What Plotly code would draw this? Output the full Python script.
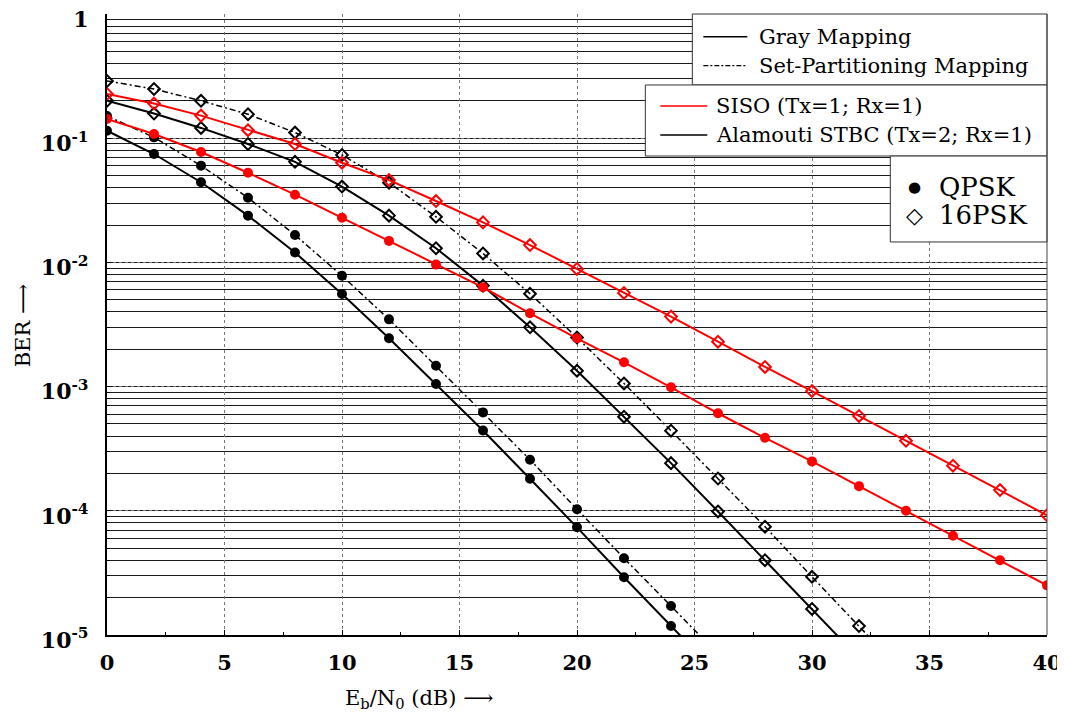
import plotly.graph_objects as go

# ---------------- data ----------------
snr_siso = [0, 2, 4, 6, 8, 10, 12, 14, 16, 18, 20, 22, 24, 26, 28, 30, 32, 34, 36, 38, 40]
ber_siso_qpsk_gray = [0.143, 0.108, 0.0774, 0.0527, 0.0351, 0.0229, 0.0149, 0.0096, 0.0063,
                      0.00389, 0.00245, 0.00157, 0.000987, 0.00061, 0.000387, 0.00025,
                      0.000158, 0.0001, 0.000063, 0.00004, 0.0000251]
ber_siso_16psk_gray = [0.227, 0.19, 0.152, 0.116, 0.0898, 0.0635, 0.046, 0.0312, 0.021,
                       0.0138, 0.00885, 0.00568, 0.00366, 0.0023, 0.00144, 0.00092,
                       0.00058, 0.000366, 0.000231, 0.000147, 0.000092]

snr_ala_qpsk = [0, 2, 4, 6, 8, 10, 12, 14, 16, 18, 20, 22, 24, 26]
ber_ala_qpsk_gray = [0.1148, 0.0746, 0.0442, 0.0238, 0.012, 0.00557, 0.00245, 0.00105,
                     0.000443, 0.000181, 0.0000736, 0.0000292, 0.0000118, 0.0000048]
ber_ala_qpsk_sp = [0.151, 0.1016, 0.0601, 0.0332, 0.0166, 0.0078, 0.00348, 0.00147,
                   0.00062, 0.000258, 0.000103, 0.0000415, 0.0000171, 0.000007]

snr_ala_16psk_gray = [0, 2, 4, 6, 8, 10, 12, 14, 16, 18, 20, 22, 24, 26, 28, 30, 32]
ber_ala_16psk_gray = [0.2, 0.158, 0.121, 0.0898, 0.0645, 0.0408, 0.0238, 0.013, 0.0065,
                      0.003, 0.00134, 0.000572, 0.000242, 0.0000988, 0.00004, 0.0000162,
                      0.0000065]
snr_ala_16psk_sp = [0, 2, 4, 6, 8, 10, 12, 14, 16, 18, 20, 22, 24, 26, 28, 30, 32, 34]
ber_ala_16psk_sp = [0.289, 0.249, 0.2, 0.156, 0.111, 0.0733, 0.0438, 0.0233, 0.0118,
                    0.0056, 0.00248, 0.00106, 0.000442, 0.000182, 0.0000745, 0.0000294,
                    0.0000118, 0.0000047]

x_ticks = [0, 5, 10, 15, 20, 25, 30, 35, 40]
y_tickvals = [1e-5, 1e-4, 1e-3, 1e-2, 1e-1, 1]
y_ticktext = ["10<sup>-5</sup>", "10<sup>-4</sup>", "10<sup>-3</sup>",
              "10<sup>-2</sup>", "10<sup>-1</sup>", "1"]

legend_mapping = ["Gray Mapping", "Set-Partitioning Mapping"]
legend_system = ["SISO (Tx=1; Rx=1)", "Alamouti STBC (Tx=2; Rx=1)"]
legend_mod = ["QPSK", "16PSK"]

# ---------------- styles ----------------
RED = "#ff0000"
BLACK = "#000000"
DASHDOT = "6px,3px,2px,3px"
FONT = "DejaVu Serif"

fig = go.Figure()


def add(x, y, color, dash, symbol, msize, width):
    fig.add_trace(go.Scatter(
        x=x, y=y, mode="lines+markers",
        line=dict(color=color, width=width, dash=dash),
        marker=dict(symbol=symbol, size=msize, color=color,
                    line=dict(color=color, width=2)),
        showlegend=False, hoverinfo="x+y"))


add(snr_ala_16psk_sp, ber_ala_16psk_sp, BLACK, DASHDOT, "diamond-open", 9, 1.5)
add(snr_ala_16psk_gray, ber_ala_16psk_gray, BLACK, "solid", "diamond-open", 9, 2)
add(snr_ala_qpsk, ber_ala_qpsk_sp, BLACK, DASHDOT, "circle", 8, 1.5)
add(snr_ala_qpsk, ber_ala_qpsk_gray, BLACK, "solid", "circle", 8, 2)
add(snr_siso, ber_siso_16psk_gray, RED, "solid", "diamond-open", 9, 2)
add(snr_siso, ber_siso_qpsk_gray, RED, "solid", "circle", 8, 2)

# ---------------- legend boxes (paper coordinates) ----------------
shapes = []
annotations = []
boxes = [
    (0.6227, 0.8857, 1.0, 1.0),
    (0.5727, 0.7713, 1.0, 0.8857),
    (0.8333, 0.6329, 1.0, 0.7713),
]
for x0, y0, x1, y1 in boxes:
    shapes.append(dict(type="rect", xref="paper", yref="paper", x0=x0, y0=y0, x1=x1, y1=y1,
                       line=dict(color="#333333", width=1), fillcolor="white", layer="above"))

# line samples
shapes.append(dict(type="line", xref="paper", yref="paper", x0=0.6344, x1=0.6812,
                   y0=0.9634, y1=0.9634, line=dict(color=BLACK, width=1.5), layer="above"))
shapes.append(dict(type="line", xref="paper", yref="paper", x0=0.6344, x1=0.6812,
                   y0=0.9168, y1=0.9168, line=dict(color=BLACK, width=1.2, dash="5px,2px,2px,2px"),
                   layer="above"))
shapes.append(dict(type="line", xref="paper", yref="paper", x0=0.5886, x1=0.6386,
                   y0=0.8519, y1=0.8519, line=dict(color=RED, width=1.5), layer="above"))
shapes.append(dict(type="line", xref="paper", yref="paper", x0=0.5886, x1=0.6386,
                   y0=0.8052, y1=0.8052, line=dict(color=BLACK, width=1.5), layer="above"))

# right border
shapes.append(dict(type="line", xref="paper", yref="paper", x0=1, x1=1, y0=0, y1=1,
                   line=dict(color="#444444", width=1), layer="above"))

LEG_FONT = dict(family=FONT, size=21, color=BLACK)
BIG_FONT = dict(family=FONT, size=26, color=BLACK)
for txt, y in zip(legend_mapping, [0.963, 0.917]):
    annotations.append(dict(text=txt, xref="paper", yref="paper", x=0.6915, y=y,
                            xanchor="left", yanchor="middle", showarrow=False, font=LEG_FONT))
for txt, y in zip(legend_system, [0.8519, 0.8052]):
    annotations.append(dict(text=txt, xref="paper", yref="paper", x=0.6453, y=y,
                            xanchor="left", yanchor="middle", showarrow=False, font=LEG_FONT))
for sym, txt, y in zip(["●", "◇"], legend_mod, [0.7214, 0.6763]):
    annotations.append(dict(text=sym, xref="paper", yref="paper", x=0.859, y=y,
                            xanchor="center", yanchor="middle", showarrow=False,
                            font=dict(family="DejaVu Sans", size=15 if sym == "●" else 22, color=BLACK)))
    annotations.append(dict(text=txt, xref="paper", yref="paper", x=0.8835, y=y,
                            xanchor="left", yanchor="middle", showarrow=False, font=BIG_FONT))

# axis titles
annotations.append(dict(text="BER ⟶", xref="paper", yref="paper", x=-0.089, y=0.4976,
                        xanchor="center", yanchor="middle", textangle=-90, showarrow=False,
                        font=dict(family=FONT, size=21, color=BLACK)))
annotations.append(dict(text="E<sub>b</sub>/N<sub>0</sub> (dB) ⟶", xref="paper", yref="paper",
                        x=0.2514, y=-0.1030, xanchor="left", yanchor="middle", showarrow=False,
                        font=dict(family=FONT, size=21, color=BLACK)))

# the page body adds an 8px offset; margins compensate so the plot area lands
# at x 107..1047, y 14..635 in the window
fig.update_layout(
    width=1065, height=713,
    margin=dict(l=99, r=26, t=6, b=86, autoexpand=False),
    paper_bgcolor="white", plot_bgcolor="white",
    showlegend=False,
    shapes=shapes, annotations=annotations,
    xaxis=dict(
        range=[0, 40], tickvals=x_ticks, ticks="inside", ticklen=5, tickcolor=BLACK,
        showgrid=True, gridcolor="#777777", griddash="dot", gridwidth=1,
        zeroline=False, showline=True, linecolor=BLACK, linewidth=2,
        tickfont=dict(family=FONT, size=21, color=BLACK, weight="bold"),
        ticklabelstandoff=8, automargin=False, ticklabeloverflow="allow",
        minor=dict(dtick=2.5, tick0=0, ticks="inside", ticklen=3, tickcolor=BLACK, showgrid=False),
    ),
    yaxis=dict(
        type="log", range=[-5, 0], tickvals=y_tickvals, ticktext=y_ticktext,
        ticks="inside", ticklen=4, tickcolor=BLACK,
        showgrid=True, gridcolor="#777777", griddash="dot", gridwidth=1,
        zeroline=False, showline=True, linecolor=BLACK, linewidth=2,
        tickfont=dict(family=FONT, size=22, color=BLACK, weight="bold"),
        ticklabelstandoff=12, ticklabelshift=5, automargin=False, ticklabeloverflow="allow",
        minor=dict(dtick="D1", ticks="inside", ticklen=3, tickcolor=BLACK,
                   showgrid=True, gridcolor="#1a1a1a", gridwidth=1, griddash="solid"),
    ),
)

fig.write_html("out.html")
